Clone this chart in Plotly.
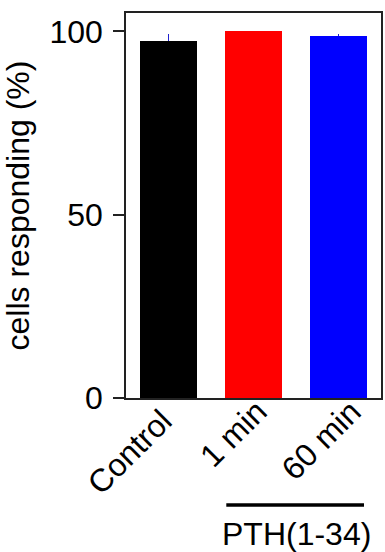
import plotly.graph_objects as go

categories = ["Control", "1 min", "60 min"]
values = [97.5, 100.0, 98.6]
err_plus = [1.7, 0.0, 0.7]
bar_colors = ["#000000", "#ff0000", "#0000ff"]
yticks = [0, 50, 100]
group_label = "PTH(1-34)"

# placement of the rotated category labels (top-right corner of each label box)
label_x_offset = [0.153, 0.264, 0.380]   # in category units from bar centre
label_y_paper = [-0.005, 0.0195, 0.0195]

FONT = "Liberation Sans, Arial, sans-serif"
FS = 32

fig = go.Figure()
fig.add_trace(go.Bar(
    x=list(range(len(categories))),
    y=values,
    marker=dict(color=bar_colors, line=dict(width=0)),
    width=0.66,
    error_y=dict(type="data", symmetric=False, array=err_plus,
                 arrayminus=[0] * len(values), color="#2020d0",
                 thickness=1.5, width=0),
    showlegend=False,
))

fig.update_layout(
    width=385, height=552,
    margin=dict(l=126, r=2, t=13, b=154),
    paper_bgcolor="white", plot_bgcolor="white",
    font=dict(family=FONT, size=FS, color="black"),
    bargap=0,
)
fig.update_xaxes(
    range=[-0.5, 2.5],
    tickmode="array", tickvals=list(range(len(categories))), ticktext=categories,
    showticklabels=False, ticks="", showgrid=False, zeroline=False,
    showline=True, linecolor="#222", linewidth=1.5, mirror=True,
)
fig.update_yaxes(
    range=[0, 105],
    tickmode="array", tickvals=yticks,
    ticks="outside", ticklen=11, tickwidth=1.5, tickcolor="#222",
    ticklabelstandoff=4,
    showgrid=False, zeroline=False,
    showline=True, linecolor="#222", linewidth=1.5, mirror=True,
    tickfont=dict(size=FS),
    title=dict(text="cells responding (%)", font=dict(size=FS), standoff=12),
)

for i, cat in enumerate(categories):
    fig.add_annotation(text=cat, xref="x", yref="paper",
                       x=i + label_x_offset[i], y=label_y_paper[i],
                       textangle=-45, showarrow=False,
                       xanchor="right", yanchor="top",
                       font=dict(size=FS))

fig.add_shape(type="line", xref="x", yref="paper",
              x0=0.68, x1=2.3, y0=-0.278, y1=-0.278,
              line=dict(color="black", width=3.5))
fig.add_annotation(text=group_label, xref="x", yref="paper",
                   x=1.5, y=-0.353, showarrow=False,
                   font=dict(size=FS), xanchor="center", yanchor="middle")

fig.write_html("out.html")
